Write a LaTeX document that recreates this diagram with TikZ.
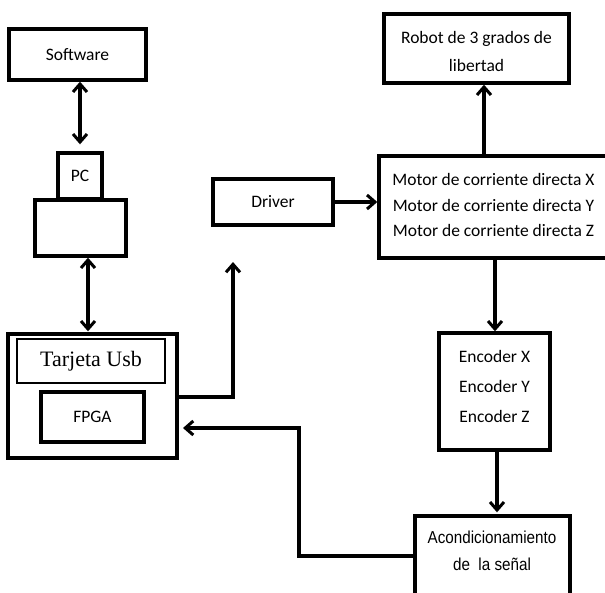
\documentclass[tikz,border=0pt]{standalone}
\usepackage{fontspec}
\setmainfont{Carlito}
\newfontfamily\serifbox{Liberation Serif}
\newfontfamily\narrowsans[FakeStretch=0.88]{Liberation Sans}
\usetikzlibrary{arrows.meta}
\begin{document}
\begin{tikzpicture}[x=1pt,y=-1pt,
  box/.style={draw, line width=3.4pt, inner sep=0pt, align=center,
    font=\fontsize{17.5}{25.5}\selectfont},
  lbl/.style={inner sep=0pt, align=center, font=\fontsize{17.5}{25.5}\selectfont},
  thinbox/.style={draw, line width=2.2pt, inner sep=0pt, align=center},
  link/.style={line width=3.4pt, -{Straight Barb[length=8pt,width=14pt,line width=3pt]}},
  dlink/.style={line width=3.4pt,
    {Straight Barb[length=8pt,width=14pt,line width=3pt]}-{Straight Barb[length=8pt,width=14pt,line width=3pt]}}]
\useasboundingbox (0,0) rectangle (605,592);
\clip (0,0) rectangle (605,592);

% computer side
\node[box, minimum width=137, minimum height=51] (sw) at (77.5,54.5) {Software};
\node[box, minimum width=44, minimum height=46] (pc) at (80,176) {PC};
\node[box, minimum width=91, minimum height=56] (cpu) at (80.5,228) {};

% USB card with the FPGA
\node[box, minimum width=169, minimum height=124] (card) at (92.5,396) {};
\node[thinbox, minimum width=148, minimum height=44,
  font=\serifbox\fontsize{22}{26}\selectfont] (usb) at (91,361) {Tarjeta Usb};
\node[box, minimum width=103, minimum height=50] (fpga) at (92.5,417) {FPGA};

% drive chain
\node[box, minimum width=120, minimum height=46] (drv) at (273,202) {Driver};
\node[box, minimum width=229, minimum height=102] (mot) at (493.5,207) {};
\node[lbl] (motl) at (493.5,205)
  {Motor de corriente directa X\\Motor de corriente directa Y\\Motor de corriente directa Z};
\node[box, minimum width=185, minimum height=69] (rob) at (476.5,48.5) {};
\node[lbl, font=\fontsize{17.5}{28}\selectfont] (robl) at (476.5,51)
  {Robot de 3 grados de\\libertad};
\node[box, minimum width=111, minimum height=117] (enc) at (494.5,391.5) {};
\node[lbl, font=\fontsize{17.5}{30}\selectfont] (encl) at (494.5,386)
  {Encoder X\\Encoder Y\\Encoder Z};
\node[box, minimum width=155, minimum height=94] (acd) at (492.5,563) {};
\node[lbl, font=\narrowsans\fontsize{17.3}{27}\selectfont] (acdl) at (492,550.5)
  {Acondicionamiento\\de\ \ la señal};

% connectors
\draw[dlink, shorten <=7pt] (pc.north) -- (pc.north |- sw.south);
\draw[dlink, shorten >=1pt] ([xshift=7.5pt]cpu.south) -- ([xshift=7.5pt]cpu.south |- card.north);
\coordinate (up) at (233,262);
\draw[link] (card.east |- 0,397) -| (up);
\draw[link] (drv.east) -- (mot.west |- drv.east);
\draw[link] (mot.north -| 484,0) -- (rob.south -| 484,0);
\draw[link] (mot.south -| 495,0) -- (enc.north -| 495,0);
\draw[link, shorten >=2pt] (enc.south -| 497,0) -- (acd.north -| 497,0);
\coordinate (fb) at (183,428);
\draw[link] (acd.west |- 0,556) -| (299,428) -- (fb);
\end{tikzpicture}
\end{document}
